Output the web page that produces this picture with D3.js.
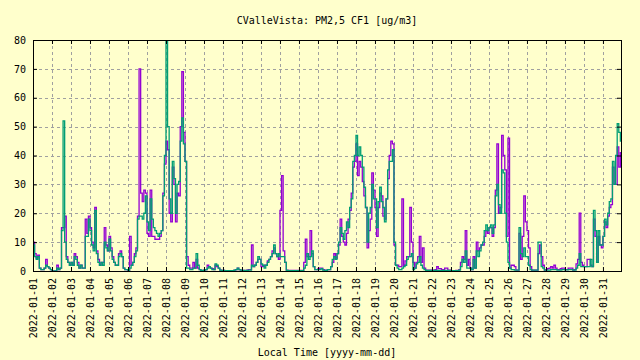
<!DOCTYPE html>
<html>
<head>
<meta charset="utf-8">
<script src="https://cdn.jsdelivr.net/npm/d3@7"></script>
<style>
  html, body { margin: 0; padding: 0; background: #ffffcc; }
  svg { display: block; }
  text { font-family: "DejaVu Sans Mono", monospace; font-size: 10px; fill: #000; }
</style>
</head>
<body>
<svg id="chart" width="640" height="360"></svg>
<script>
// ---- data (2-hour steps starting 2022-01-01 00:00, local time) ----
const titleText = "CValleVista: PM2,5 CF1 [ug/m3]";
const xLabelText = "Local Time [yyyy-mm-dd]";
const startTime = "2022-01-01T00:00";
const endTime = "2022-01-31T22:48";
const stepHours = 2;
const yTicks = [0, 10, 20, 30, 40, 50, 60, 70, 80];
const xTickLabels = [
  "2022-01-01","2022-01-02","2022-01-03","2022-01-04","2022-01-05","2022-01-06",
  "2022-01-07","2022-01-08","2022-01-09","2022-01-10","2022-01-11","2022-01-12",
  "2022-01-13","2022-01-14","2022-01-15","2022-01-16","2022-01-17","2022-01-18",
  "2022-01-19","2022-01-20","2022-01-21","2022-01-22","2022-01-23","2022-01-24",
  "2022-01-25","2022-01-26","2022-01-27","2022-01-28","2022-01-29","2022-01-30",
  "2022-01-31"
];
// purple series (channel A)
const seriesA = [
  10,6,4.5,5.5,1,0.5,0.5,1,4,1.5,1,0.5,
  0,0,0,2,0.5,1,15,15,19,5,3,2,
  3,2,6,5,3,1,2,1,1,18,13,19,
  15,10,8,22,7,4,2,3,3,15,9,7,
  12,8,5,3,2,2,6,7,5,1,0.5,0.5,
  0,12,2,3,6,8,19,70,27,24,28,27,
  13,12,28,12,12,11,11,11,12,14,27,37,
  45,42,20,17,36,30,17,27,26,50,69,48,
  38,5,2,1,1,3,1,4,1,0.5,0.2,0.2,
  0.3,0.5,2,1.5,1,0.8,0.5,2,1.5,1,0.3,0.2,
  0.2,0.1,0.1,0.1,0.1,0.1,0.1,0.3,0.5,1,0.5,0.3,
  0.2,0.2,0.1,0.3,0.5,0.5,9,1.5,2,3,4,4,
  1.5,1.5,2,2,3.5,4,5,7,8,6,5,4,
  21,33,7,3,0.3,0.2,0.2,0.2,0.2,0.2,0.2,0.2,
  0.2,0.2,0.2,3,11,5,5,14,6,1.5,0.5,0.5,
  0.8,1,1,0.5,0.3,0.3,0.5,0.5,1.5,3,6,4.5,
  6,9,18,12,10,9,13,18,21,27,36,38,
  44,33,38,36,31,26,22,8,14,18,34,28,
  22,12,22,27,26,19,18,25,32,40,45,44,
  9,2,2,1.5,1.5,25,2,3.5,5,5,22,10,
  3,1,3,5,12,3,8,1,0.3,0.3,0.3,0.3,
  0.3,0.3,0.5,1.5,0.8,0.8,0.5,0.5,1,1,0.3,0.3,
  0.1,0.1,0.1,0.2,0.2,0.5,3,5,4,14,2,4,
  1,0.5,5,1,10,7,8,9,9,12,14,13,
  15,15,12,15,28,44,20,22,47,40,35,12,
  46,1,2,2,1.5,0.3,0.3,13,4,12,26,17,
  14,8,1.5,0.3,0.3,0.3,0.3,6,9,5,2,0.3,
  0.5,0.8,1,1.5,1,2,1,0.5,0.5,0.8,1,1,
  0.5,0.5,1,1,1,0.3,0.5,2.5,4,20,3,2,
  1.5,1.5,4,4,2,1.5,18,12,3,12,9,8,
  12,17,15,19,22,23,36,30,30,43,36,41
];
// teal series (channel B)
const seriesB = [
  9,5,4,5,1,0.5,0.5,1,2,1.5,1,0.5,
  0,0,0,1,0.5,1,14,52,10,4,3,2,
  3,2,5,4,2,1,2,1,1,12,12,18,
  14,9,7,21,6,3,2,3,2,10,8,7,
  11,7,4,3,2,2,5,6,5,1,0.5,0.5,
  0,1,2,3,5,7,18,19,19,18,20,26,
  17,14,25,18,15,14,13,12,13,14,26,40,
  85,50,25,20,38,32,20,30,31,45,53,44,
  38,1,1,0.5,0.5,1,1,6,2,0.5,0.2,0.2,
  0.3,0.5,1,1.5,1,0.5,0.5,2.5,2,1,0.3,0.2,
  0.2,0.1,0.1,0.1,0.1,0.1,0.1,0.3,0.5,1,0.5,0.3,
  0.2,0.2,0.1,0.2,0.3,0.3,2,1.5,2,3,5,4,
  2.5,2,1,2,3,4,5,6,9,6,5,6,
  5,5,5,3,0.2,0.1,0.1,0.1,0.1,0.1,0.1,0.1,
  0.1,0.1,0.1,1,2,6,4,5,7,1.5,0.5,0.5,
  0.5,0.5,0.8,0.3,0.2,0.2,0.5,0.5,1.5,4,5,4,
  6,10,15,13,11,14,17,15,22,25,38,40,
  47,40,43,40,36,29,22,10,20,22,30,25,
  25,15,24,29,24,22,17,25,35,38,38,42,
  10,2,1,0.5,0.5,1,1.5,2,4,5,5,6,
  0.5,1,2.5,3,5,2,1,0.5,0.2,0.2,0.2,0.2,
  0.2,0.2,0.2,0.2,0.2,0.2,0.2,0.2,0.2,0.2,0.2,0.2,
  0.1,0.1,0.1,0.1,0.1,0.3,1.5,4,3,7,1,1,
  1,0.5,4,1,7,5,7,9,10,14,16,14,
  15,16,13,16,26,30,23,20,35,34,20,10,
  3,1,0.5,0.5,0.3,0.3,0.3,15,6,5,8,5,
  5,2,0.5,0.3,0.3,0.3,0.3,10,10,1.5,1,0.3,
  0.3,0.3,0.3,0.5,0.5,0.5,0.5,0.3,0.3,0.3,0.5,0.5,
  0.4,0.4,0.5,0.5,0.5,0.3,0.3,1,2,6,1.5,1.5,
  1.5,1.5,1.5,1.5,4,1.5,21,14,3,14,9,9,
  12,18,16,20,24,25,38,30,40,51,48,45
];
const colorA = "#9400d3";
const colorB = "#009e73";

// ---- layout ----
const W = 640, H = 360;
const plot = { left: 33, right: 621, top: 40, bottom: 271 };
const svg = d3.select("#chart");
svg.append("rect").attr("width", W).attr("height", H).attr("fill", "#ffffcc");

const parse = d3.timeParse("%Y-%m-%dT%H:%M");
const parseDay = d3.timeParse("%Y-%m-%d");
const t0 = parse(startTime), t1 = parse(endTime);

const x = d3.scaleTime().domain([t0, t1]).range([plot.left, plot.right]);
const y = d3.scaleLinear().domain([0, 80]).range([plot.bottom, plot.top]);

const tickDates = xTickLabels.map(parseDay);
const fmt = d3.timeFormat("%Y-%m-%d");

// grid
const grid = svg.append("g").attr("stroke", "#a0a0a0").attr("stroke-width", 1)
  .attr("stroke-dasharray", "3,3").attr("shape-rendering", "crispEdges");
grid.selectAll("line.gx").data(tickDates.slice(1)).join("line")
  .attr("x1", d => Math.round(x(d)) + 0.5).attr("x2", d => Math.round(x(d)) + 0.5)
  .attr("y1", plot.top).attr("y2", plot.bottom);
grid.selectAll("line.gy").data(yTicks.slice(1, -1)).join("line")
  .attr("x1", plot.left).attr("x2", plot.right)
  .attr("y1", d => Math.round(y(d)) + 0.5).attr("y2", d => Math.round(y(d)) + 0.5);

// clip
svg.append("clipPath").attr("id", "clip").append("rect")
  .attr("x", plot.left).attr("y", plot.top)
  .attr("width", plot.right - plot.left).attr("height", plot.bottom - plot.top);

function toPoints(arr) {
  const pts = arr.map((v, i) => ({ t: d3.timeHour.offset(t0, i * stepHours), v }));
  pts.push({ t: d3.timeHour.offset(t0, arr.length * stepHours), v: arr[arr.length - 1] });
  return pts;
}
const line = d3.line().x(d => x(d.t)).y(d => y(d.v)).curve(d3.curveStepAfter);

const lines = svg.append("g").attr("clip-path", "url(#clip)");
lines.append("path").datum(toPoints(seriesA)).attr("d", line)
  .attr("fill", "none").attr("stroke", colorA).attr("stroke-width", 1.3);
lines.append("path").datum(toPoints(seriesB)).attr("d", line)
  .attr("fill", "none").attr("stroke", colorB).attr("stroke-width", 1.3);

// axes (ticks inward)
const axB = d3.axisBottom(x).tickValues(tickDates).tickFormat(fmt).tickSizeInner(-4).tickSizeOuter(0);
const gB = svg.append("g").attr("transform", `translate(0,${plot.bottom})`).call(axB);
gB.select(".domain").remove();
gB.selectAll("line").attr("stroke", "#000");
gB.selectAll("text")
  .attr("transform", "rotate(-90)")
  .attr("x", -7).attr("y", 0).attr("dy", "0.35em")
  .attr("text-anchor", "end")
  .style("font-family", "DejaVu Sans Mono, monospace").style("font-size", "10px");

const axT = d3.axisTop(x).tickValues(tickDates).tickFormat("").tickSizeInner(-4).tickSizeOuter(0);
const gT = svg.append("g").attr("transform", `translate(0,${plot.top})`).call(axT);
gT.select(".domain").remove();

const axL = d3.axisLeft(y).tickValues(yTicks).tickSizeInner(-4).tickSizeOuter(0).tickPadding(7);
const gL = svg.append("g").attr("transform", `translate(${plot.left},0)`).call(axL);
gL.select(".domain").remove();
gL.selectAll("text").style("font-family", "DejaVu Sans Mono, monospace").style("font-size", "10px");

const axR = d3.axisRight(y).tickValues(yTicks).tickFormat("").tickSizeInner(-4).tickSizeOuter(0);
const gR = svg.append("g").attr("transform", `translate(${plot.right},0)`).call(axR);
gR.select(".domain").remove();

// border
svg.append("rect").attr("x", plot.left + 0.5).attr("y", plot.top + 0.5)
  .attr("width", plot.right - plot.left).attr("height", plot.bottom - plot.top)
  .attr("fill", "none").attr("stroke", "#000").attr("stroke-width", 1)
  .attr("shape-rendering", "crispEdges");

// titles
svg.append("text").attr("x", (plot.left + plot.right) / 2).attr("y", 24)
  .attr("text-anchor", "middle").text(titleText);
svg.append("text").attr("x", (plot.left + plot.right) / 2).attr("y", 356)
  .attr("text-anchor", "middle").text(xLabelText);
</script>
</body>
</html>
